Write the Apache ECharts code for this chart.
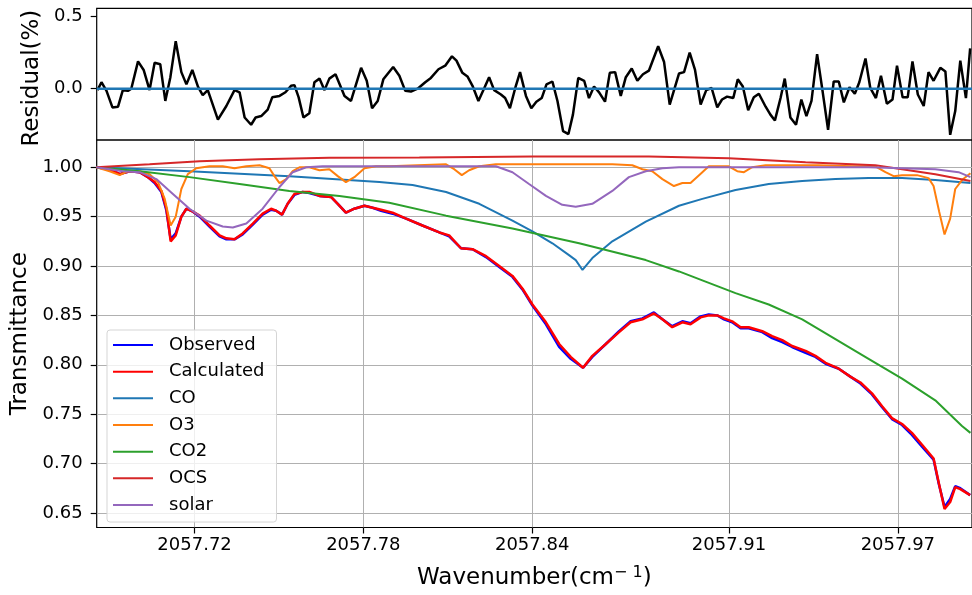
<!DOCTYPE html>
<html>
<head>
<meta charset="utf-8">
<script src="https://cdn.jsdelivr.net/npm/echarts@6/dist/echarts.min.js"></script>
<style>
  html, body { margin: 0; padding: 0; background: #fff; }
  #chart { width: 972px; height: 595px; }
</style>
</head>
<body>
<div id="chart"></div>
<script>
// Residual + transmittance fit, wavenumber axis shared by both panels.
const FONT = 'DejaVu Sans';

const X_MIN = 2057.68521;
const X_MAX = 2057.99636;
const X_TICKS = [2057.72, 2057.78, 2057.84, 2057.91, 2057.97];
const RES_TICKS = [0, 0.5];
const T_TICKS = [0.65, 0.70, 0.75, 0.80, 0.85, 0.90, 0.95, 1.00];

// top panel: residual (%) vs wavenumber
const residualWn = [
  2057.6855, 2057.6869, 2057.6887, 2057.6908, 2057.6928, 2057.6945, 2057.6963, 2057.6975, 2057.6999, 2057.7019,
  2057.7040, 2057.7058, 2057.7078, 2057.7096, 2057.7114, 2057.7133, 2057.7153, 2057.7171, 2057.7192, 2057.7212,
  2057.7229, 2057.7247, 2057.7283, 2057.7313, 2057.7342, 2057.7360, 2057.7378, 2057.7401, 2057.7417, 2057.7437,
  2057.7460, 2057.7476, 2057.7502, 2057.7523, 2057.7543, 2057.7555, 2057.7570, 2057.7587, 2057.7608, 2057.7626,
  2057.7644, 2057.7662, 2057.7679, 2057.7701, 2057.7733, 2057.7756, 2057.7792, 2057.7812, 2057.7831, 2057.7851,
  2057.7871, 2057.7906, 2057.7928, 2057.7949, 2057.7969, 2057.7993, 2057.8020, 2057.8040, 2057.8067, 2057.8091,
  2057.8115, 2057.8131, 2057.8152, 2057.8170, 2057.8188, 2057.8209, 2057.8230, 2057.8247, 2057.8265, 2057.8289,
  2057.8304, 2057.8321, 2057.8340, 2057.8357, 2057.8378, 2057.8397, 2057.8415, 2057.8434, 2057.8451, 2057.8472,
  2057.8490, 2057.8510, 2057.8529, 2057.8545, 2057.8564, 2057.8585, 2057.8602, 2057.8620, 2057.8638, 2057.8659,
  2057.8676, 2057.8695, 2057.8715, 2057.8733, 2057.8754, 2057.8774, 2057.8794, 2057.8815, 2057.8848, 2057.8869,
  2057.8889, 2057.8922, 2057.8940, 2057.8960, 2057.8979, 2057.8999, 2057.9019, 2057.9038, 2057.9058, 2057.9075,
  2057.9093, 2057.9115, 2057.9131, 2057.9149, 2057.9168, 2057.9188, 2057.9206, 2057.9230, 2057.9247, 2057.9263,
  2057.9283, 2057.9298, 2057.9318, 2057.9338, 2057.9357, 2057.9375, 2057.9393, 2057.9413, 2057.9433, 2057.9452,
  2057.9472, 2057.9490, 2057.9508, 2057.9528, 2057.9547, 2057.9563, 2057.9585, 2057.9602, 2057.9622, 2057.9640,
  2057.9661, 2057.9681, 2057.9697, 2057.9717, 2057.9735, 2057.9752, 2057.9771, 2057.9792, 2057.9809, 2057.9827,
  2057.9851, 2057.9869, 2057.9886, 2057.9904, 2057.9922, 2057.9942, 2057.9957
];
const residual = [
  -0.01, 0.045, -0.015, -0.13, -0.125, -0.01, -0.015, 0.0, 0.19, 0.13,
  -0.01, 0.18, 0.17, -0.085, 0.08, 0.33, 0.115, 0.03, 0.13, 0.015,
  -0.045, -0.01, -0.215, -0.12, -0.01, -0.025, -0.2, -0.25, -0.2, -0.19,
  -0.145, -0.06, -0.05, -0.025, 0.02, 0.025, -0.06, -0.2, -0.17, 0.045,
  0.07, -0.01, 0.07, 0.10, -0.05, -0.085, 0.145, 0.055, -0.135, -0.085,
  0.065, 0.15, 0.09, -0.015, -0.02, 0.0, 0.045, 0.075, 0.135, 0.16,
  0.225, 0.195, 0.11, 0.085, 0.02, -0.085, 0.005, 0.08, -0.01, -0.04,
  -0.065, -0.135, 0.005, 0.115, -0.05, -0.135, -0.09, -0.065, 0.03, 0.05,
  -0.085, -0.295, -0.315, -0.18, 0.075, 0.055, -0.065, 0.015, -0.025, -0.09,
  0.11, 0.115, -0.05, 0.08, 0.14, 0.055, 0.1, 0.125, 0.295, 0.185,
  -0.11, 0.105, 0.115, 0.25, 0.13, -0.11, -0.01, 0.005, -0.13, -0.075,
  -0.055, -0.065, 0.065, 0.015, -0.15, -0.06, -0.035, -0.125, -0.18, -0.22,
  -0.065, 0.07, -0.2, -0.25, -0.075, -0.19, -0.085, 0.24, -0.025, -0.285,
  0.05, 0.05, -0.095, 0.01, -0.035, 0.045, 0.21, 0.005, -0.065, 0.09,
  -0.105, -0.075, 0.16, -0.06, -0.06, 0.19, -0.04, -0.12, 0.115, 0.055,
  0.145, 0.12, -0.32, -0.155, 0.195, -0.065, 0.28
];

// bottom panel: transmittance, [wavenumber, T]
const calculated = [
  [2057.6851, 1.000], [2057.6898, 0.998], [2057.6934, 0.993], [2057.6969, 0.996], [2057.7005, 0.995],
  [2057.7034, 0.990], [2057.7058, 0.985], [2057.7082, 0.976], [2057.7100, 0.958], [2057.7115, 0.925],
  [2057.7133, 0.931], [2057.7153, 0.950], [2057.7171, 0.958], [2057.7194, 0.955], [2057.7218, 0.951],
  [2057.7253, 0.941], [2057.7289, 0.931], [2057.7313, 0.928], [2057.7342, 0.927], [2057.7371, 0.933],
  [2057.7407, 0.943], [2057.7442, 0.953], [2057.7472, 0.958], [2057.7490, 0.956], [2057.7511, 0.952],
  [2057.7531, 0.963], [2057.7555, 0.973], [2057.7584, 0.975], [2057.7608, 0.975], [2057.7644, 0.971],
  [2057.7685, 0.970], [2057.7709, 0.963], [2057.7738, 0.954], [2057.7768, 0.958], [2057.7804, 0.961],
  [2057.7833, 0.959], [2057.7863, 0.957], [2057.7904, 0.954], [2057.7952, 0.948], [2057.8010, 0.941],
  [2057.8070, 0.934], [2057.8105, 0.931], [2057.8147, 0.918], [2057.8188, 0.917], [2057.8236, 0.910],
  [2057.8283, 0.900], [2057.8330, 0.890], [2057.8366, 0.877], [2057.8401, 0.861], [2057.8449, 0.843],
  [2057.8496, 0.821], [2057.8537, 0.808], [2057.8581, 0.797], [2057.8614, 0.809], [2057.8662, 0.821],
  [2057.8709, 0.833], [2057.8750, 0.843], [2057.8792, 0.846], [2057.8833, 0.852], [2057.8863, 0.846],
  [2057.8898, 0.838], [2057.8934, 0.843], [2057.8963, 0.841], [2057.8999, 0.848], [2057.9028, 0.850],
  [2057.9058, 0.850], [2057.9082, 0.847], [2057.9111, 0.844], [2057.9141, 0.838], [2057.9170, 0.838],
  [2057.9218, 0.834], [2057.9253, 0.829], [2057.9289, 0.825], [2057.9324, 0.819], [2057.9372, 0.814],
  [2057.9407, 0.809], [2057.9443, 0.802], [2057.9490, 0.796], [2057.9531, 0.788], [2057.9567, 0.782],
  [2057.9608, 0.771], [2057.9644, 0.758], [2057.9679, 0.746], [2057.9715, 0.740], [2057.9750, 0.731],
  [2057.9786, 0.719], [2057.9827, 0.705], [2057.9845, 0.681], [2057.9866, 0.654], [2057.9886, 0.661],
  [2057.9904, 0.676], [2057.9922, 0.674], [2057.9957, 0.668]
];
const observed = [
  [2057.6851, 1.000], [2057.6898, 0.998], [2057.6934, 0.993], [2057.6969, 0.996], [2057.7005, 0.995],
  [2057.7034, 0.990], [2057.7058, 0.984], [2057.7082, 0.975], [2057.7100, 0.956], [2057.7115, 0.927],
  [2057.7133, 0.933], [2057.7153, 0.950], [2057.7171, 0.958], [2057.7194, 0.955], [2057.7218, 0.950],
  [2057.7253, 0.940], [2057.7289, 0.930], [2057.7313, 0.927], [2057.7342, 0.927], [2057.7371, 0.932],
  [2057.7407, 0.942], [2057.7442, 0.952], [2057.7472, 0.957], [2057.7490, 0.956], [2057.7511, 0.952],
  [2057.7531, 0.963], [2057.7555, 0.972], [2057.7584, 0.975], [2057.7608, 0.974], [2057.7644, 0.971],
  [2057.7685, 0.970], [2057.7709, 0.963], [2057.7738, 0.954], [2057.7768, 0.958], [2057.7804, 0.961],
  [2057.7833, 0.959], [2057.7863, 0.956], [2057.7904, 0.953], [2057.7952, 0.948], [2057.8010, 0.941],
  [2057.8070, 0.934], [2057.8105, 0.930], [2057.8147, 0.918], [2057.8188, 0.917], [2057.8236, 0.909],
  [2057.8283, 0.899], [2057.8330, 0.889], [2057.8366, 0.876], [2057.8401, 0.860], [2057.8449, 0.841],
  [2057.8496, 0.818], [2057.8537, 0.806], [2057.8581, 0.797], [2057.8614, 0.808], [2057.8662, 0.821],
  [2057.8709, 0.834], [2057.8750, 0.844], [2057.8792, 0.847], [2057.8833, 0.853], [2057.8863, 0.846],
  [2057.8898, 0.839], [2057.8934, 0.844], [2057.8963, 0.842], [2057.8999, 0.849], [2057.9028, 0.851],
  [2057.9058, 0.850], [2057.9082, 0.846], [2057.9111, 0.843], [2057.9141, 0.837], [2057.9170, 0.837],
  [2057.9218, 0.833], [2057.9253, 0.827], [2057.9289, 0.823], [2057.9324, 0.818], [2057.9372, 0.812],
  [2057.9407, 0.808], [2057.9443, 0.801], [2057.9490, 0.796], [2057.9531, 0.788], [2057.9567, 0.781],
  [2057.9608, 0.770], [2057.9644, 0.757], [2057.9679, 0.745], [2057.9715, 0.739], [2057.9750, 0.729],
  [2057.9786, 0.717], [2057.9827, 0.704], [2057.9845, 0.680], [2057.9866, 0.656], [2057.9886, 0.664],
  [2057.9904, 0.677], [2057.9922, 0.675], [2057.9957, 0.668]
];
const co = [
  [2057.6851, 1.000], [2057.7182, 0.996], [2057.7537, 0.991], [2057.7857, 0.985], [2057.7975, 0.982],
  [2057.8094, 0.975], [2057.8212, 0.963], [2057.8330, 0.946], [2057.8401, 0.935], [2057.8472, 0.923],
  [2057.8531, 0.911], [2057.8555, 0.906], [2057.8579, 0.896], [2057.8614, 0.908], [2057.8685, 0.925],
  [2057.8804, 0.945], [2057.8922, 0.961], [2057.9005, 0.968], [2057.9123, 0.977], [2057.9241, 0.983],
  [2057.9360, 0.986], [2057.9478, 0.988], [2057.9596, 0.989], [2057.9715, 0.989], [2057.9833, 0.987],
  [2057.9958, 0.984]
];
const o3 = [
  [2057.6851, 1.000], [2057.6898, 0.996], [2057.6934, 0.992], [2057.6963, 0.996], [2057.7005, 0.996],
  [2057.7040, 0.993], [2057.7070, 0.985], [2057.7094, 0.968], [2057.7115, 0.941], [2057.7133, 0.950],
  [2057.7153, 0.978], [2057.7176, 0.993], [2057.7206, 0.999], [2057.7253, 1.001], [2057.7300, 1.001],
  [2057.7342, 0.999], [2057.7384, 1.001], [2057.7431, 1.002], [2057.7466, 0.999], [2057.7484, 0.991],
  [2057.7502, 0.984], [2057.7526, 0.988], [2057.7549, 0.996], [2057.7573, 1.000], [2057.7608, 1.000],
  [2057.7644, 0.997], [2057.7679, 0.998], [2057.7709, 0.991], [2057.7738, 0.985], [2057.7768, 0.990],
  [2057.7804, 0.999], [2057.7845, 1.001], [2057.7892, 1.001], [2057.8094, 1.003], [2057.8123, 0.998],
  [2057.8150, 0.992], [2057.8176, 0.997], [2057.8212, 1.001], [2057.8271, 1.003], [2057.8567, 1.003],
  [2057.8685, 1.003], [2057.8756, 1.002], [2057.8792, 0.998], [2057.8827, 0.996], [2057.8863, 0.988],
  [2057.8904, 0.981], [2057.8934, 0.984], [2057.8963, 0.984], [2057.9005, 0.995], [2057.9028, 1.001],
  [2057.9099, 1.001], [2057.9129, 0.996], [2057.9153, 0.995], [2057.9182, 1.000], [2057.9230, 1.002],
  [2057.9419, 1.002], [2057.9537, 1.001], [2057.9620, 1.001], [2057.9656, 0.995], [2057.9685, 0.991],
  [2057.9715, 0.992], [2057.9768, 0.992], [2057.9809, 0.989], [2057.9827, 0.981], [2057.9847, 0.955],
  [2057.9866, 0.932], [2057.9886, 0.948], [2057.9904, 0.978], [2057.9928, 0.987], [2057.9958, 0.994]
];
const co2 = [
  [2057.6851, 1.000], [2057.7005, 0.996], [2057.7182, 0.990], [2057.7360, 0.983], [2057.7537, 0.976],
  [2057.7715, 0.971], [2057.7892, 0.964], [2057.8094, 0.951], [2057.8330, 0.938], [2057.8567, 0.923],
  [2057.8804, 0.906], [2057.8922, 0.8945], [2057.9005, 0.8855], [2057.9123, 0.8725], [2057.9241, 0.861],
  [2057.9360, 0.846], [2057.9478, 0.826], [2057.9596, 0.806], [2057.9715, 0.786], [2057.9833, 0.764],
  [2057.9928, 0.738], [2057.9958, 0.731]
];
const ocs = [
  [2057.6851, 1.000], [2057.7040, 1.003], [2057.7218, 1.006], [2057.7431, 1.008], [2057.7679, 1.0095],
  [2057.7999, 1.010], [2057.8400, 1.011], [2057.8815, 1.011], [2057.9099, 1.009], [2057.9372, 1.005],
  [2057.9620, 1.002], [2057.9715, 0.998], [2057.9833, 0.993], [2057.9958, 0.986]
];
const solar = [
  [2057.6851, 1.000], [2057.6945, 0.996], [2057.7005, 0.995], [2057.7064, 0.988], [2057.7123, 0.973],
  [2057.7182, 0.958], [2057.7242, 0.946], [2057.7300, 0.940], [2057.7336, 0.939], [2057.7384, 0.943],
  [2057.7442, 0.958], [2057.7502, 0.980], [2057.7549, 0.995], [2057.7597, 1.000], [2057.7655, 1.001],
  [2057.7892, 1.001], [2057.8271, 1.001], [2057.8330, 0.995], [2057.8389, 0.983], [2057.8449, 0.971],
  [2057.8507, 0.962], [2057.8555, 0.960], [2057.8614, 0.963], [2057.8685, 0.976], [2057.8744, 0.990],
  [2057.8804, 0.996], [2057.8863, 0.999], [2057.8922, 1.000], [2057.9241, 1.000], [2057.9596, 1.000],
  [2057.9833, 0.998], [2057.9916, 0.995], [2057.9958, 0.990]
];

const SPECIES = [
  { name: 'Observed',   data: observed,   color: '#0000ff', width: 2.5 },
  { name: 'Calculated', data: calculated, color: '#ff0000', width: 2.5 },
  { name: 'CO',         data: co,         color: '#1f77b4', width: 2 },
  { name: 'O3',         data: o3,         color: '#ff7f0e', width: 2 },
  { name: 'CO2',        data: co2,        color: '#2ca02c', width: 2 },
  { name: 'OCS',        data: ocs,        color: '#d62728', width: 2 },
  { name: 'solar',      data: solar,      color: '#9467bd', width: 2 },
];

const tickStyle = { color: '#000', width: 1.2 };
const labelStyle = { fontFamily: FONT, fontSize: 18, color: '#000' };
const gridLine = { lineStyle: { color: '#b0b0b0', width: 1 } };

const chart = echarts.init(document.getElementById('chart'), null, { renderer: 'canvas' });

chart.setOption({
  animation: false,
  backgroundColor: '#fff',
  grid: [
    { left: 96.7, top: 8.3, width: 876.8, height: 131.7, show: true, borderColor: '#000', borderWidth: 1.2, containLabel: false },
    { left: 96.7, top: 140, width: 876.8, height: 391.5, show: true, borderColor: '#000', borderWidth: 1.2, containLabel: false },
  ],
  xAxis: [
    {
      type: 'value', gridIndex: 0, min: X_MIN, max: X_MAX,
      axisLine: { show: false }, axisTick: { show: false }, axisLabel: { show: false }, splitLine: { show: false },
    },
    {
      type: 'value', gridIndex: 1, min: X_MIN, max: X_MAX,
      axisLine: { show: false },
      axisTick: { show: true, customValues: X_TICKS, length: 6, lineStyle: tickStyle },
      axisLabel: { ...labelStyle, customValues: X_TICKS, margin: 9, formatter: (v) => v.toFixed(2) },
      splitLine: { show: true, ...gridLine },
      name: '{n|Wavenumber(cm}{s|− 1}{n|)}',
      nameLocation: 'middle',
      nameGap: 37,
      nameTextStyle: {
        rich: {
          n: { fontFamily: FONT, fontSize: 23, color: '#000', lineHeight: 28 },
          s: { fontFamily: FONT, fontSize: 16, color: '#000', lineHeight: 16, verticalAlign: 'top' },
        },
      },
    },
  ],
  yAxis: [
    {
      type: 'value', gridIndex: 0, min: -0.356, max: 0.558,
      axisLine: { show: false },
      axisTick: { show: true, customValues: RES_TICKS, length: 6, lineStyle: tickStyle },
      axisLabel: { ...labelStyle, customValues: RES_TICKS, margin: 14, formatter: (v) => v.toFixed(1) },
      splitLine: { show: false },
      name: 'Residual(%)', nameLocation: 'middle', nameGap: 43,
      nameTextStyle: { fontFamily: FONT, fontSize: 23, color: '#000', padding: [0, 8, 0, 0] },
    },
    {
      type: 'value', gridIndex: 1, min: 0.6352, max: 1.0276,
      axisLine: { show: false },
      axisTick: { show: true, customValues: T_TICKS, length: 6, lineStyle: tickStyle },
      axisLabel: { ...labelStyle, customValues: T_TICKS, margin: 14, formatter: (v) => v.toFixed(2) },
      splitLine: { show: true, ...gridLine },
      name: 'Transmittance', nameLocation: 'middle', nameGap: 54,
      nameTextStyle: { fontFamily: FONT, fontSize: 23, color: '#000' },
    },
  ],
  legend: {
    orient: 'vertical',
    left: 107, top: 330,
    data: SPECIES.map((s) => s.name),
    icon: 'rect', itemWidth: 40, itemHeight: 2, itemGap: 6.67,
    padding: [5, 12, 7, 6],
    backgroundColor: 'rgba(255,255,255,0.8)',
    borderColor: '#d5d5d5', borderWidth: 1, borderRadius: 3,
    selectedMode: false,
    textStyle: { fontFamily: FONT, fontSize: 18, color: '#000', lineHeight: 20, padding: [0, 0, 0, 11] },
  },
  series: [
    {
      name: 'residual', type: 'line', xAxisIndex: 0, yAxisIndex: 0,
      data: residualWn.map((w, i) => [w, residual[i]]),
      symbol: 'none', lineStyle: { color: '#000', width: 2.5 }, color: '#000', silent: true,
    },
    {
      name: 'zero', type: 'line', xAxisIndex: 0, yAxisIndex: 0,
      data: [[X_MIN, 0], [X_MAX, 0]],
      symbol: 'none', lineStyle: { color: '#1f77b4', width: 2.5 }, color: '#1f77b4', silent: true,
    },
    ...SPECIES.map((s) => ({
      name: s.name, type: 'line', xAxisIndex: 1, yAxisIndex: 1,
      data: s.data, symbol: 'none', color: s.color,
      lineStyle: { color: s.color, width: s.width }, silent: true,
    })),
  ],
});
</script>
</body>
</html>
